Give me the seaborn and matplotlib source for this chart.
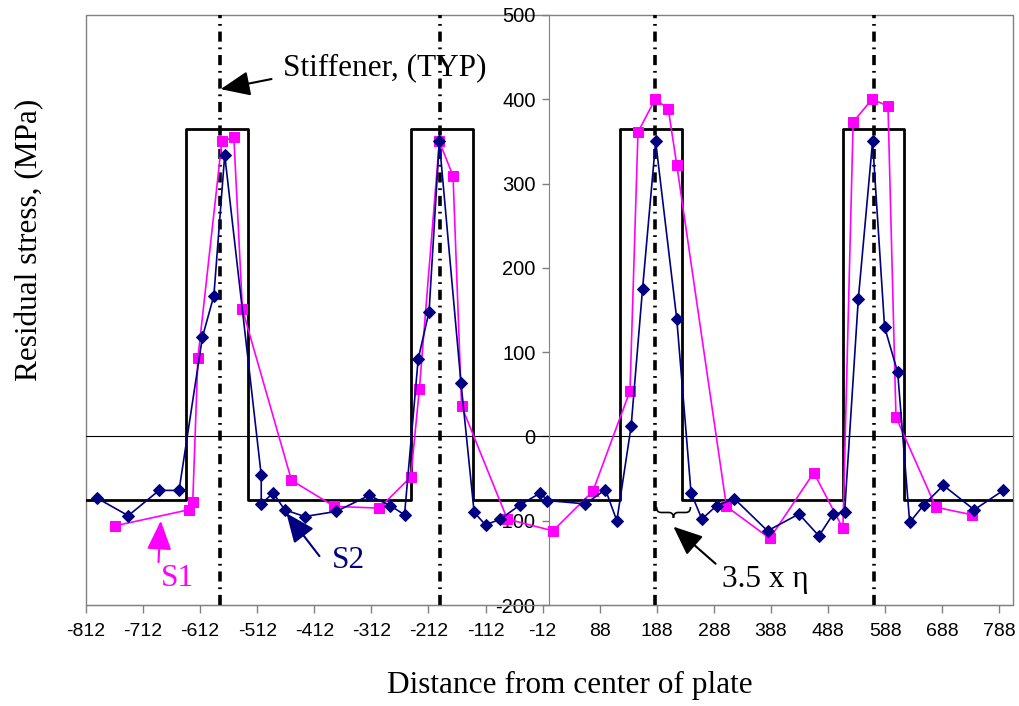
import matplotlib
matplotlib.use('Agg')
import matplotlib.pyplot as plt
from matplotlib.patches import Rectangle, PathPatch
from matplotlib.path import Path
import seaborn as sns

# measured residual stress, series S1 (magenta squares)
s1_x = [-761, -632, -625, -616, -574, -553, -538, -452, -377, -298, -243, -228,
        -193, -169, -154, -74, 6, 76, 141, 155, 185, 208, 223, 310, 386, 463,
        514, 532, 565, 593, 607, 677, 741]
s1_y = [-106, -87, -78, 93, 350, 355, 151, -52, -83, -85, -48, 56,
        350, 309, 36, -98, -112, -65, 54, 361, 400, 389, 322, -83, -121, -43,
        -109, 373, 400, 392, 23, -84, -93]

# measured residual stress, series S2 (navy diamonds)
s2_x = [-793, -738, -684, -649, -608, -588, -569, -505, -505, -484, -464, -429,
        -374, -316, -279, -254, -230, -211, -193, -155, -132, -112, -86, -51,
        -16, -4, 63, 98, 118, 143, 163, 186, 223, 248, 267, 293, 324, 382,
        437, 472, 497, 517, 541, 566, 587, 610, 631, 656, 690, 744, 795]
s2_y = [-73, -94, -64, -64, 118, 167, 334, -46, -80, -67, -87, -95,
        -89, -70, -82, -93, 92, 148, 350, 63, -90, -105, -98, -81,
        -67, -76, -80, -63, -100, 12, 175, 350, 139, -67, -98, -82, -74, -112,
        -92, -118, -92, -90, 163, 350, 130, 76, -102, -81, -58, -87, -64]

# idealised block distribution
ideal_x = [-812, -636, -636, -529, -529, -243, -243, -134, -134, 124, 124, 233,
           233, 514, 514, 621, 621, 812]
ideal_y = [-75, -75, 365, 365, -75, -75, 365, 365, -75, -75, 365, 365,
           -75, -75, 365, 365, -75, -75]

stiffener_x = [-578, -192, 185, 568]
x_ticks = list(range(-812, 789, 100))
y_ticks = list(range(-200, 501, 100))

sns.set_style('white')
plt.rcParams['font.family'] = ['Liberation Serif', 'DejaVu Serif']
plt.rcParams['axes.unicode_minus'] = False
plt.rcParams['text.color'] = 'black'
plt.rcParams['axes.labelcolor'] = 'black'

fig = plt.figure(figsize=(10.19, 7.06), dpi=100)
ax = fig.add_axes([0.0844, 0.143, 0.9097, 0.8358])

ax.axhline(0, color='black', lw=0.8, zorder=1)
for xs in stiffener_x:
    ax.axvline(xs, color='black', lw=2.6, linestyle=(0, (2.8, 1.6, 0.5, 1.6)), zorder=2)

sns.lineplot(x=ideal_x, y=ideal_y, sort=False, estimator=None, color='black',
             lw=2.0, ax=ax, zorder=3)
sns.lineplot(x=s1_x, y=s1_y, sort=False, estimator=None, color='#FF00FF', lw=1.2,
             marker='s', markersize=7, markeredgecolor='#FF00FF', ax=ax, zorder=4)
sns.lineplot(x=s2_x, y=s2_y, sort=False, estimator=None, color='#000080', lw=1.2,
             marker='D', markersize=6, markeredgecolor='#000080', ax=ax, zorder=5)

ax.set_xlim(-812, 812)
ax.set_ylim(-200, 500)
ax.set_xticks(x_ticks)
ax.set_yticks(y_ticks)

# frame and y axis crossing at x = 0
for s in ['top', 'right']:
    ax.spines[s].set_visible(False)
ax.spines['left'].set_position(('data', 0))
ax.spines['left'].set_color('gray')
ax.spines['bottom'].set_color('gray')
ax.add_patch(Rectangle((0, 0), 1, 1, transform=ax.transAxes, fill=False,
                       ec='gray', lw=1, clip_on=False, zorder=0))

ax.tick_params(axis='x', bottom=True, direction='out', length=6, width=1,
               color='gray', labelcolor='black', pad=7, labelsize=14)
ax.tick_params(axis='y', left=True, direction='out', length=5, width=1,
               color='gray', labelcolor='black', pad=5, labelsize=14.5)
for lbl in ax.get_xticklabels() + ax.get_yticklabels():
    lbl.set_fontfamily('Liberation Sans')

ax.set_xlabel('Distance from center of plate', fontsize=22.5)
ax.xaxis.label.set_va('center')
ax.xaxis.set_label_coords(0.522, -0.1356)
ax.set_ylabel('Residual stress, (MPa)', fontsize=22.5)
ax.yaxis.label.set_va('center')
ax.yaxis.set_label_coords(-0.0604, 0.6186)

# annotations
head = '-|>,head_length=0.9,head_width=0.38'
ax.text(-467, 437, 'Stiffener, (TYP)', fontsize=22.5, ha='left', va='center')
ax.annotate('', xy=(-576, 412), xytext=(-487, 424),
            arrowprops=dict(arrowstyle=head, color='black', lw=1.5, mutation_scale=20,
                            shrinkA=0, shrinkB=0))

ax.text(-651, -168, 'S1', fontsize=22.5, color='#FF00FF', ha='center', va='center')
ax.annotate('', xy=(-681, -100), xytext=(-685, -149),
            arrowprops=dict(arrowstyle=head, color='#FF00FF', lw=1.5, mutation_scale=20,
                            shrinkA=0, shrinkB=0))

ax.text(-352, -147, 'S2', fontsize=22.5, color='#000080', ha='center', va='center')
ax.annotate('', xy=(-461, -91), xytext=(-403, -142),
            arrowprops=dict(arrowstyle=head, color='#000080', lw=1.5, mutation_scale=20,
                            shrinkA=0, shrinkB=0))

ax.text(379, -170, '3.5 x η', fontsize=22.5, ha='center', va='center')
ax.annotate('', xy=(217, -107), xytext=(291, -151),
            arrowprops=dict(arrowstyle=head, color='black', lw=1.5, mutation_scale=20,
                            shrinkA=0, shrinkB=0))

# curly brace under the gap next to the stiffener
bx0, bx1, bxm, q = 187.5, 247, 217.2, 8
yt, ym, yp = -83.6, -90.2, -96.7
verts = [(bx0, yt), (bx0, ym), (bx0 + q, ym), (bxm - q, ym), (bxm, ym), (bxm, yp),
         (bxm, yp), (bxm, ym), (bxm + q, ym), (bx1 - q, ym), (bx1, ym), (bx1, yt)]
codes = [Path.MOVETO, Path.CURVE3, Path.CURVE3, Path.LINETO, Path.CURVE3, Path.CURVE3,
         Path.MOVETO, Path.CURVE3, Path.CURVE3, Path.LINETO, Path.CURVE3, Path.CURVE3]
ax.add_patch(PathPatch(Path(verts, codes), fill=False, lw=1.2, color='black'))

fig.savefig('out.png', dpi=100)
